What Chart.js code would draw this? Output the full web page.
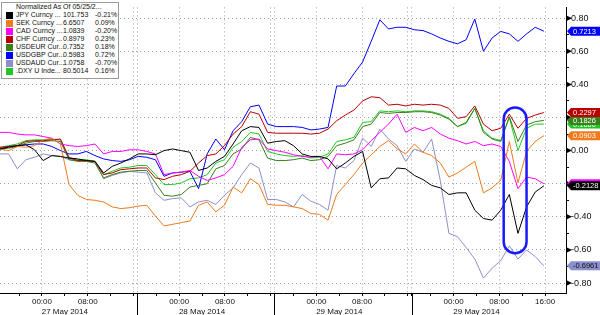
<!DOCTYPE html>
<html>
<head>
<meta charset="utf-8">
<script src="https://cdn.jsdelivr.net/npm/chart.js@4.4.1/dist/chart.umd.min.js"></script>
<style>
  html, body { margin: 0; padding: 0; background: #fff; }
  #wrap { position: relative; width: 600px; height: 315px; }
  #legend {
    position: absolute; left: 1px; top: 2px; width: 116px; height: 75px;
    background: #fff; border: 1px solid #9a9a9a;
    font: 7px "Liberation Sans", Arial, sans-serif; color: #111;
  }
  #legend .row { position: absolute; left: 0; height: 8px; line-height: 8px; white-space: nowrap; }
  #legend .sw { position: absolute; left: 4px; top: 1px; width: 7px; height: 7px; }
  #legend .nm { position: absolute; left: 14px; }
  #legend .val { position: absolute; left: 61px; }
  #legend .chg { position: absolute; left: 93px; }
</style>
</head>
<body>
<div id="wrap">
  <canvas id="chart" width="600" height="315"></canvas>
  <div id="legend"></div>
</div>
<script>
// sample times (hours from left edge of the chart)
const times = [0, 1.51, 3.02, 4.53, 6.04, 7.55, 9.06, 10.57, 12.08, 13.59, 15.1, 16.61, 18.12, 19.63, 21.14, 22.65,
  24.16, 25.67, 27.18, 28.69, 30.2, 31.71, 33.22, 34.73, 36.24, 37.75, 39.26, 40.77, 42.28, 43.79, 45.3, 46.81,
  48.32, 49.83, 51.34, 52.85, 54.36, 55.87, 57.38, 58.89, 60.4, 61.91, 63.42, 64.93, 66.44, 67.95, 69.46, 70.97,
  72.48, 73.99, 75.5, 77.01, 78.52, 80.03, 81.54, 83.05, 84.56, 86.07, 87.58, 89.09, 90.6, 92.11, 93.62, 95.13];

const jpy = [0.01, 0.02, 0.03, 0.035, 0.005, -0.06, -0.03, -0.035,
  -0.045, -0.05, -0.06, -0.065, -0.135, -0.095, -0.075, -0.05,
  -0.02, -0.02, -0.025, 0.0, 0.01, 0.0, -0.01, -0.12,
  -0.105, -0.065, -0.035, 0.04, 0.12, 0.145, 0.14, 0.045,
  0.055, 0.06, 0.03, -0.02, -0.035, -0.035, -0.05, -0.11,
  -0.075, -0.035, -0.005, -0.225, -0.17, -0.165, -0.105, -0.11,
  -0.15, -0.175, -0.21, -0.225, -0.265, -0.255, -0.255, -0.36,
  -0.41, -0.42, -0.36, -0.265, -0.5, -0.34, -0.25, -0.2128];

const sek = [0.01, 0.0, 0.025, 0.02, 0.03, 0.065, 0.075, 0.04,
  -0.205, -0.27, -0.295, -0.3, -0.31, -0.34, -0.35, -0.345,
  -0.335, -0.33, -0.395, -0.455, -0.445, -0.435, -0.425, -0.33,
  -0.31, -0.37, -0.33, -0.22, -0.255, -0.17, -0.205, -0.325,
  -0.33, -0.33, -0.34, -0.35, -0.38, -0.385, -0.42, -0.265,
  -0.205, -0.145, -0.075, -0.025, 0.025, 0.06, 0.01, -0.02,
  0.04, -0.01, -0.03, -0.075, -0.16, -0.135, -0.1, -0.065,
  -0.255, -0.225, -0.18, 0.055, -0.195, -0.005, 0.055, 0.0903];

const cad = [0.11, 0.11, 0.1, 0.095, 0.095, 0.085, 0.075, 0.04,
  0.03, 0.025, 0.03, 0.04, -0.02, -0.005, -0.005, 0.005,
  0.005, -0.005, -0.02, -0.145, -0.135, -0.13, -0.12, -0.155,
  -0.18, -0.165, -0.145, -0.095, 0.02, 0.065, 0.07, 0.01,
  0.0, -0.01, -0.025, -0.035, -0.04, -0.035, -0.11, -0.02,
  -0.025, -0.02, 0.005, 0.06, 0.11, 0.16, 0.22, 0.11,
  0.14, 0.12, 0.14, 0.1, 0.075, 0.06, 0.04, 0.055,
  0.03, 0.04, 0.025, -0.065, -0.23, -0.16, -0.17, -0.2];

const chf = [0.02, 0.025, 0.03, 0.055, 0.06, 0.06, 0.065, 0.07,
  -0.045, -0.06, -0.06, -0.065, -0.145, -0.135, -0.115, -0.11,
  -0.105, -0.105, -0.165, -0.175, -0.155, -0.145, -0.125, -0.075,
  -0.03, -0.02, 0.03, 0.1, 0.145, 0.235, 0.22, 0.11,
  0.105, 0.105, 0.105, 0.105, 0.1, 0.105, 0.13, 0.18,
  0.215, 0.245, 0.3, 0.325, 0.32, 0.275, 0.28, 0.27,
  0.28, 0.275, 0.28, 0.275, 0.255, 0.195, 0.205, 0.27,
  0.16, 0.12, 0.135, 0.22, 0.135, 0.195, 0.215, 0.2297];

const usdeur = [0.01, 0.015, 0.025, 0.045, 0.055, 0.055, 0.06, 0.055,
  -0.055, -0.065, -0.065, -0.075, -0.165, -0.145, -0.13, -0.125,
  -0.12, -0.12, -0.195, -0.27, -0.275, -0.265, -0.22, -0.21,
  -0.2, -0.11, -0.09, -0.02, 0.01, 0.08, 0.065, -0.045,
  -0.06, -0.06, -0.055, -0.045, -0.06, -0.055, -0.035, 0.03,
  0.045, 0.065, 0.145, 0.16, 0.23, 0.225, 0.23, 0.23,
  0.235, 0.235, 0.23, 0.215, 0.19, 0.145, 0.17, 0.255,
  0.11, 0.07, 0.055, 0.205, 0.055, 0.155, 0.175, 0.1826];

const usdgbp = [0.01, 0.025, 0.03, 0.035, 0.04, 0.04, 0.025, 0.0,
  -0.02, -0.02, -0.005, -0.03, -0.05, -0.06, -0.065, -0.055,
  -0.035, -0.04, -0.055, -0.155, -0.135, -0.13, -0.125, -0.23,
  -0.02, 0.07, 0.005, 0.12, 0.175, 0.265, 0.275, 0.16,
  0.145, 0.145, 0.145, 0.14, 0.125, 0.13, 0.14, 0.39,
  0.39, 0.465, 0.535, 0.66, 0.79, 0.735, 0.745, 0.745,
  0.73, 0.725, 0.705, 0.68, 0.66, 0.645, 0.67, 0.795,
  0.6, 0.68, 0.72, 0.705, 0.66, 0.705, 0.745, 0.7213];

const usdaud = [-0.02, -0.02, -0.11, -0.055, -0.04, -0.02, -0.03, -0.035,
  -0.055, -0.06, -0.06, -0.065, -0.17, -0.15, -0.135, -0.125,
  -0.13, -0.135, -0.255, -0.3, -0.29, -0.285, -0.34, -0.31,
  -0.3, -0.325, -0.27, -0.225, -0.145, -0.075, -0.105, -0.295,
  -0.295, -0.31, -0.34, -0.265, -0.305, -0.325, -0.36, -0.09,
  -0.105, -0.06, 0.075, 0.025, 0.13, 0.07, 0.03, -0.065,
  0.01, -0.01, 0.07, -0.18, -0.5, -0.52, -0.585, -0.655,
  -0.77, -0.71, -0.665, -0.575, -0.655, -0.6, -0.64, -0.6961];

const dxy = [0.02, 0.03, 0.04, 0.06, 0.065, 0.065, 0.07, 0.065,
  -0.04, -0.055, -0.055, -0.065, -0.145, -0.125, -0.105, -0.1,
  -0.09, -0.09, -0.145, -0.205, -0.205, -0.195, -0.17, -0.165,
  -0.145, -0.075, -0.055, 0.02, 0.055, 0.11, 0.1, -0.005,
  -0.02, -0.03, -0.035, -0.03, -0.045, -0.04, -0.02, 0.055,
  0.065, 0.08, 0.17, 0.175, 0.24, 0.235, 0.24, 0.235,
  0.24, 0.24, 0.235, 0.22, 0.195, 0.145, 0.165, 0.255,
  0.12, 0.075, 0.06, 0.2, 0.0, 0.135, 0.16, 0.16];

// 凡例
const legendTitle = 'Normalized As Of 05/25/2...';
const seriesNames = ['JPY Curncy ...', 'SEK Curncy ...', 'CAD Curncy ...', 'CHF Curncy ...',
  'USDEUR Cur...', 'USDGBP Cur...', 'USDAUD Cur...', '.DXY U Inde...'];
const legendPrices = ['101.753', '6.6507', '1.0839', '0.8979', '0.7352', '0.5983', '1.0758', '80.5014'];
const legendChanges = ['-0.21%', '0.09%', '-0.20%', '0.23%', '0.18%', '0.72%', '-0.70%', '0.16%'];
const seriesColors = ['#000000', '#f07a1c', '#ff00ff', '#b80000', '#38801c', '#0000ff', '#8b8fcc', '#22c622'];
const tagTextColors = ['#fff', '#fff', '#000', '#fff', '#fff', '#fff', '#111', '#fff'];
const seriesValues = [jpy, sek, cad, chf, usdeur, usdgbp, usdaud, dxy];
const tagOrder = [6, 2, 0, 1, 7, 4, 3, 5];

// x軸
const dayLabels = ['27 May 2014', '28 May 2014', '29 May 2014', '29 May 2014'];
const firstMidnight = 7.34;
const dayBreaks = [24, 48, 72];
const xMax = 99;

// 注目の枠
const highlight = { fromHour: 88.1, toHour: 92.1, top: 0.26, bottom: -0.62 };

const xTicks = [];
dayLabels.forEach((day, d) => {
    for (let k = -1; k <= 4; k++) {
        let label = '';
        if (k === 0) label = '00:00';
        if (k === 1) label = ['', day];
        if (k === 2) label = '08:00';
        if (k === 4 && d === dayLabels.length - 1) label = '16:00';
        xTicks.push({ value: firstMidnight + 24 * d + 4 * k, label: label, grid: k % 2 === 0 });
    }
});
dayBreaks.forEach(h => xTicks.push({ value: h, label: '', grid: true, sep: true }));
xTicks.sort((a, b) => a.value - b.value);

const isMajorY = (v) => Math.abs(Math.round(v * 10)) % 2 === 0;
const fmtY = (v) => Math.abs(v) < 1e-9 ? '0.00' : v.toFixed(2);

// legend box
const legendEl = document.getElementById('legend');
legendEl.innerHTML = `<div class="row" style="top:0"><span class="nm">${legendTitle}</span></div>`;
seriesNames.forEach((name, i) => {
    const row = document.createElement('div');
    row.className = 'row';
    row.style.top = (8 + i * 8) + 'px';
    row.innerHTML = `<span class="sw" style="background:${seriesColors[i]}"></span>
        <span class="nm">${name}</span><span class="val">${legendPrices[i]}</span>
        <span class="chg">${legendChanges[i]}</span>`;
    legendEl.appendChild(row);
});

const extrasPlugin = {
    id: 'extras',
    afterDatasetsDraw(chart) {
        const { ctx, scales: { x, y } } = chart;
        const x0 = x.getPixelForValue(highlight.fromHour);
        const x1 = x.getPixelForValue(highlight.toHour);
        const y0 = y.getPixelForValue(highlight.top);
        const y1 = y.getPixelForValue(highlight.bottom);
        ctx.save();
        ctx.strokeStyle = '#1a1aff';
        ctx.lineWidth = 2.5;
        ctx.beginPath();
        ctx.roundRect(x0, y0, x1 - x0, y1 - y0, (x1 - x0) / 2);
        ctx.stroke();
        ctx.restore();
    },
    afterDraw(chart) {
        const { ctx, chartArea, scales: { x, y } } = chart;
        ctx.save();
        // day separators below the axis
        ctx.strokeStyle = '#000';
        ctx.lineWidth = 1;
        dayBreaks.forEach(h => {
            const px = Math.round(x.getPixelForValue(h)) + 0.5;
            ctx.beginPath();
            ctx.moveTo(px, chartArea.bottom);
            ctx.lineTo(px, chart.height);
            ctx.stroke();
        });
        // arrow ticks on the right axis
        ctx.fillStyle = '#000';
        y.ticks.forEach(t => {
            if (!isMajorY(t.value)) return;
            const py = y.getPixelForValue(t.value);
            ctx.beginPath();
            ctx.moveTo(chartArea.right + 1, py - 2.5);
            ctx.lineTo(chartArea.right + 1, py + 2.5);
            ctx.lineTo(chartArea.right + 6, py);
            ctx.closePath();
            ctx.fill();
        });
        // last value tags
        ctx.font = '7.5px "Liberation Sans", Arial, sans-serif';
        ctx.textBaseline = 'middle';
        tagOrder.forEach(i => {
            const vals = seriesValues[i];
            const last = vals[vals.length - 1];
            const py = y.getPixelForValue(last);
            const left = chartArea.right + 1;
            ctx.fillStyle = seriesColors[i];
            ctx.beginPath();
            ctx.moveTo(left, py);
            ctx.lineTo(left + 4, py - 4.5);
            ctx.lineTo(chart.width, py - 4.5);
            ctx.lineTo(chart.width, py + 4.5);
            ctx.lineTo(left + 4, py + 4.5);
            ctx.closePath();
            ctx.fill();
            ctx.fillStyle = tagTextColors[i];
            ctx.fillText(last.toFixed(4), left + 6, py + 0.5);
        });
        ctx.restore();
    }
};

const datasets = seriesValues.map((vals, i) => ({
    label: seriesNames[i],
    data: vals.map((v, j) => ({ x: times[j], y: v })),
    borderColor: seriesColors[i],
    borderWidth: 1,
    pointRadius: 0,
    tension: 0,
    fill: false
}));

new Chart(document.getElementById('chart').getContext('2d'), {
    type: 'line',
    data: { datasets: datasets },
    plugins: [extrasPlugin],
    options: {
        responsive: false,
        animation: false,
        layout: { padding: 0 },
        plugins: { legend: { display: false }, tooltip: { enabled: false } },
        scales: {
            x: {
                type: 'linear',
                min: 0,
                max: xMax,
                afterBuildTicks: (scale) => { scale.ticks = xTicks.map(t => ({ value: t.value })); },
                afterFit: (scale) => { scale.height = 22; },
                ticks: {
                    autoSkip: false,
                    maxRotation: 0,
                    padding: 1,
                    color: '#111',
                    font: { family: '"Liberation Sans", Arial, sans-serif', size: 8, lineHeight: 1.25 },
                    callback: (v, i) => xTicks[i] ? xTicks[i].label : ''
                },
                grid: {
                    color: (c) => (xTicks[c.index] && xTicks[c.index].grid) ? '#a0a0a0' : 'rgba(0,0,0,0)',
                    tickColor: '#000',
                    tickLength: 3,
                    lineWidth: 1
                },
                border: { display: true, color: '#000', width: 1, dash: [1, 3] }
            },
            y: {
                position: 'right',
                min: -0.86,
                max: 0.865,
                afterFit: (scale) => { scale.width = 34; },
                ticks: {
                    stepSize: 0.1,
                    includeBounds: false,
                    padding: 2,
                    color: '#111',
                    font: { family: '"Liberation Sans", Arial, sans-serif', size: 9 },
                    callback: (v) => isMajorY(v) ? fmtY(v) : ''
                },
                grid: {
                    color: (c) => (c.tick && isMajorY(c.tick.value)) ? '#a0a0a0' : 'rgba(0,0,0,0)',
                    tickColor: '#000',
                    tickLength: 3,
                    lineWidth: 1
                },
                border: { display: true, color: '#000', width: 1, dash: [1, 3] }
            }
        }
    }
});
</script>
</body>
</html>
